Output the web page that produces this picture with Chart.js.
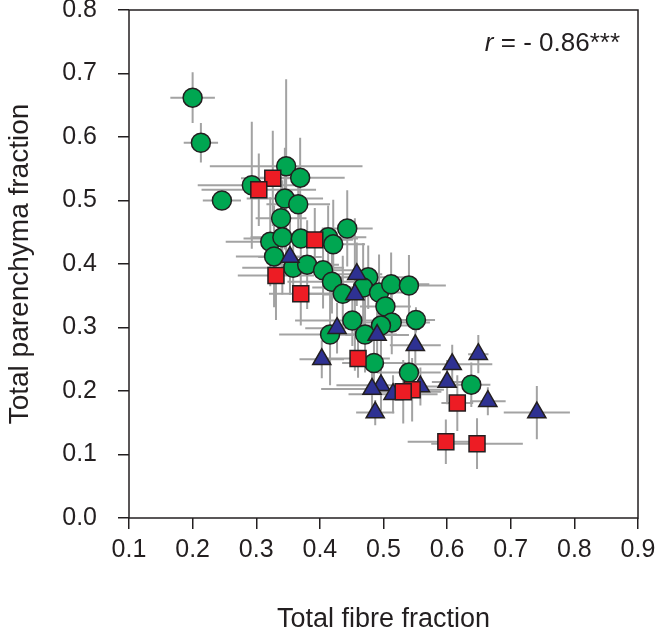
<!DOCTYPE html>
<html lang="en">
  <head>
    <title>Fibre vs parenchyma</title>
    <script src="https://cdn.jsdelivr.net/npm/chart.js@4.4.1/dist/chart.umd.min.js"></script>
    <style>
      body { margin: 0; background: #fff; }
    </style>
  </head>
  <body>
    <canvas id="fractionChart" width="655" height="636"></canvas>
    <script>
      // green circles
      const greenX = [0.200, 0.213, 0.246, 0.347, 0.369, 0.293, 0.345, 0.366, 0.339, 0.322, 0.341, 0.370,
        0.413, 0.421, 0.443, 0.328, 0.358, 0.380, 0.405, 0.419, 0.436, 0.476, 0.468, 0.493, 0.512, 0.540,
        0.503, 0.513, 0.496, 0.451, 0.416, 0.471, 0.551, 0.485, 0.540, 0.638];
      const greenY = [0.662, 0.591, 0.500, 0.554, 0.536, 0.524, 0.503, 0.494, 0.472, 0.435, 0.442, 0.440,
        0.442, 0.431, 0.456, 0.412, 0.394, 0.399, 0.390, 0.372, 0.353, 0.379, 0.363, 0.355, 0.368, 0.366,
        0.333, 0.308, 0.303, 0.311, 0.289, 0.289, 0.312, 0.244, 0.229, 0.210];
      const greenXErr = [0.035, 0.027, 0.030, 0.120, 0.070, 0.085, 0.060, 0.050, 0.040, 0.070, 0.050, 0.090,
        0.060, 0.050, 0.040, 0.060, 0.080, 0.050, 0.060, 0.070, 0.080, 0.070, 0.080, 0.050, 0.060, 0.058,
        0.040, 0.060, 0.050, 0.090, 0.080, 0.050, 0.030, 0.050, 0.050, 0.030];
      const greenYErr = [0.040, 0.031, 0.010, 0.137, 0.063, 0.100, 0.080, 0.060, 0.050, 0.070, 0.090, 0.060,
        0.050, 0.070, 0.060, 0.080, 0.050, 0.070, 0.060, 0.050, 0.060, 0.050, 0.070, 0.060, 0.050, 0.048,
        0.040, 0.050, 0.060, 0.040, 0.080, 0.060, 0.020, 0.040, 0.035, 0.035];

      // blue triangles
      const blueX = [0.353, 0.458, 0.455, 0.427, 0.490, 0.403, 0.550, 0.608, 0.649, 0.600, 0.558, 0.496,
        0.482, 0.515, 0.664, 0.741, 0.487];
      const blueY = [0.411, 0.384, 0.352, 0.299, 0.288, 0.250, 0.272, 0.242, 0.258, 0.214, 0.207, 0.209,
        0.203, 0.195, 0.184, 0.166, 0.166];
      const blueXErr = [0.050, 0.040, 0.050, 0.050, 0.050, 0.035, 0.040, 0.063, 0.016, 0.024, 0.040, 0.070,
        0.080, 0.070, 0.028, 0.052, 0.030];
      const blueYErr = [0.060, 0.050, 0.120, 0.040, 0.050, 0.030, 0.040, 0.031, 0.030, 0.035, 0.030, 0.040,
        0.030, 0.030, 0.022, 0.042, 0.020];

      // red squares
      const redX = [0.326, 0.304, 0.392, 0.331, 0.370, 0.460, 0.545, 0.531, 0.616, 0.598, 0.647];
      const redY = [0.535, 0.517, 0.438, 0.382, 0.353, 0.251, 0.202, 0.199, 0.181, 0.120, 0.117];
      const redXErr = [0.050, 0.090, 0.060, 0.060, 0.050, 0.050, 0.050, 0.060, 0.025, 0.060, 0.072];
      const redYErr = [0.075, 0.057, 0.050, 0.070, 0.050, 0.030, 0.050, 0.050, 0.044, 0.035, 0.040];

      const xTicks = [0.1, 0.2, 0.3, 0.4, 0.5, 0.6, 0.7, 0.8, 0.9];
      const yTicks = [0.0, 0.1, 0.2, 0.3, 0.4, 0.5, 0.6, 0.7, 0.8];

      function toPoints(xs, ys) {
        return xs.map((x, i) => ({x: x, y: ys[i]}));
      }

      const errorBars = {
        id: "errorBars",
        beforeDatasetsDraw(chart) {
          const ctx = chart.ctx;
          const xs = chart.scales.x, ys = chart.scales.y;
          ctx.save();
          ctx.strokeStyle = "#a3a3a3";
          ctx.lineWidth = 2;
          chart.data.datasets.forEach(ds => {
            ds.data.forEach((p, i) => {
              const px = xs.getPixelForValue(p.x), py = ys.getPixelForValue(p.y);
              ctx.beginPath();
              ctx.moveTo(xs.getPixelForValue(p.x - ds.xErr[i]), py);
              ctx.lineTo(xs.getPixelForValue(p.x + ds.xErr[i]), py);
              ctx.moveTo(px, ys.getPixelForValue(p.y - ds.yErr[i]));
              ctx.lineTo(px, ys.getPixelForValue(p.y + ds.yErr[i]));
              ctx.stroke();
            });
          });
          ctx.restore();
        },
        afterDraw(chart) {
          const {ctx, chartArea: a} = chart;
          ctx.save();
          ctx.strokeStyle = "#231f20";
          ctx.lineWidth = 1.5;
          ctx.strokeRect(a.left, a.top, a.right - a.left, a.bottom - a.top);
          // correlation note
          ctx.fillStyle = "#231f20";
          ctx.textBaseline = "alphabetic";
          ctx.textAlign = "left";
          const rest = " = - 0.86***";
          ctx.font = "26px 'Liberation Sans', Arial, sans-serif";
          const restW = ctx.measureText(rest).width;
          ctx.font = "italic 26px 'Liberation Sans', Arial, sans-serif";
          const rW = ctx.measureText("r").width;
          const x0 = 620 - restW - rW;
          ctx.fillText("r", x0, 51);
          ctx.font = "26px 'Liberation Sans', Arial, sans-serif";
          ctx.fillText(rest, x0 + rW, 51);
          ctx.restore();
        }
      };

      const tickFont = {family: "'Liberation Sans', Arial, sans-serif", size: 25};
      const xTitleFont = {family: "'Liberation Sans', Arial, sans-serif", size: 27};
      const yTitleFont = {family: "'Liberation Sans', Arial, sans-serif", size: 28};

      const ctx = document.getElementById("fractionChart").getContext("2d");
      const fractionChart = new Chart(ctx, {
        type: "scatter",
        data: {
          datasets: [
            {
              label: "red",
              data: toPoints(redX, redY),
              xErr: redXErr, yErr: redYErr,
              pointStyle: "rect",
              pointRadius: 11.3,
              backgroundColor: "#ed1c24",
              borderColor: "#231f20",
              borderWidth: 1.5
            },
            {
              label: "blue",
              data: toPoints(blueX, blueY),
              xErr: blueXErr, yErr: blueYErr,
              pointStyle: "triangle",
              pointRadius: 10.5,
              backgroundColor: "#2e3192",
              borderColor: "#231f20",
              borderWidth: 1.5
            },
            {
              label: "green",
              data: toPoints(greenX, greenY),
              xErr: greenXErr, yErr: greenYErr,
              pointStyle: "circle",
              pointRadius: 9.5,
              backgroundColor: "#00a651",
              borderColor: "#231f20",
              borderWidth: 1.5
            }
          ]
        },
        options: {
          responsive: false,
          animation: false,
          events: [],
          layout: {autoPadding: false, padding: {top: 10, right: 17, left: 0, bottom: 0}},
          plugins: {legend: {display: false}, tooltip: {enabled: false}},
          scales: {
            x: {
              type: "linear",
              min: 0.1, max: 0.9,
              afterBuildTicks: axis => { axis.ticks = xTicks.map(v => ({value: v})); },
              afterFit: axis => {
                axis.height = 118;
                axis.paddingLeft = 0; axis.paddingRight = 0;
              },
              ticks: {
                callback: v => v.toFixed(1),
                font: tickFont, color: "#231f20", padding: 6, maxRotation: 0
              },
              grid: {drawOnChartArea: false, tickLength: 11, color: "#231f20", lineWidth: 1.5},
              border: {display: false},
              title: {display: true, text: "Total fibre fraction", font: xTitleFont, color: "#231f20", padding: {bottom: 0}}
            },
            y: {
              type: "linear",
              min: 0, max: 0.8,
              afterBuildTicks: axis => { axis.ticks = yTicks.map(v => ({value: v})); },
              afterFit: axis => {
                axis.width = 129;
                axis.paddingTop = 0; axis.paddingBottom = 0;
              },
              ticks: {
                callback: v => v.toFixed(1),
                font: tickFont, color: "#231f20", padding: 21
              },
              grid: {drawOnChartArea: false, tickLength: 11, color: "#231f20", lineWidth: 1.5},
              border: {display: false},
              title: {display: true, text: "Total parenchyma fraction", font: yTitleFont, color: "#231f20", padding: {top: 3}}
            }
          }
        },
        plugins: [errorBars]
      });
    </script>
  </body>
</html>
